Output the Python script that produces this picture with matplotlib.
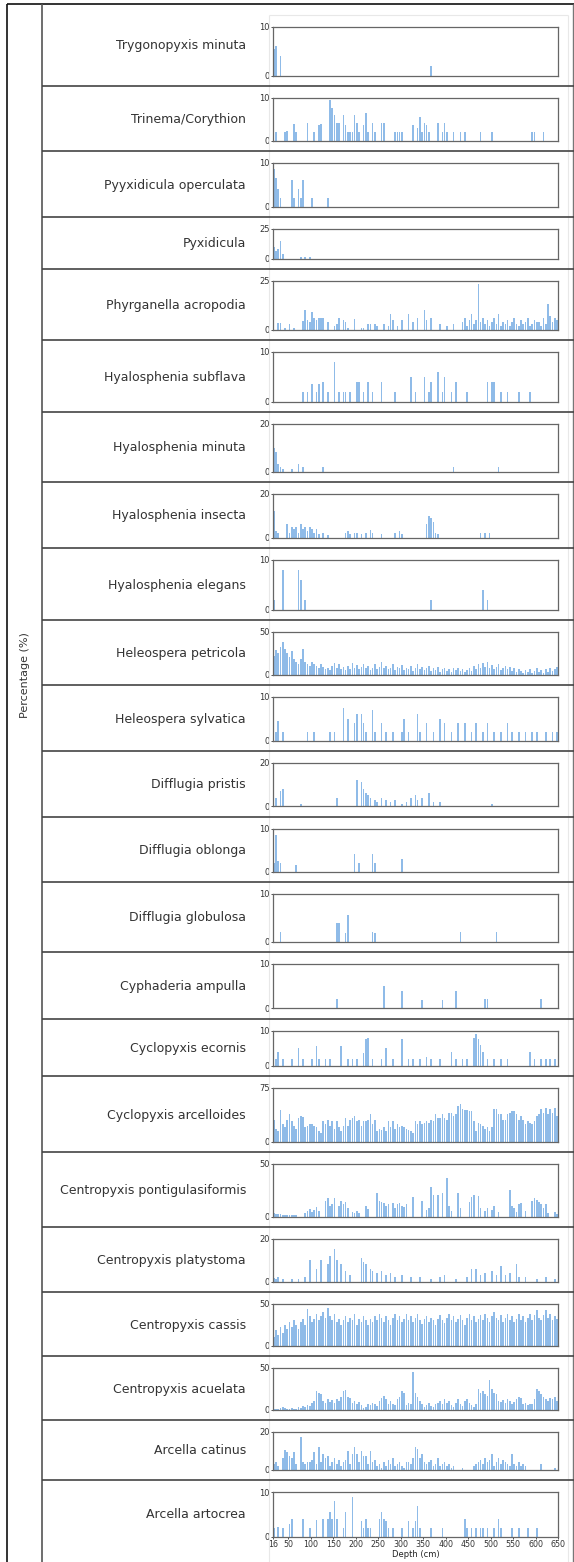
import matplotlib
matplotlib.use("Agg")
import matplotlib.pyplot as plt
from matplotlib.lines import Line2D

# species shown top to bottom, with the y-axis maximum of each panel
species = [
    "Trygonopyxis minuta", "Trinema/Corythion", "Pyyxidicula operculata", "Pyxidicula",
    "Phyrganella acropodia", "Hyalosphenia subflava", "Hyalosphenia minuta",
    "Hyalosphenia insecta", "Hyalosphenia elegans", "Heleospera petricola",
    "Heleospera sylvatica", "Difflugia pristis", "Difflugia oblonga", "Difflugia globulosa",
    "Cyphaderia ampulla", "Cyclopyxis ecornis", "Cyclopyxis arcelloides",
    "Centropyxis pontigulasiformis", "Centropyxis platystoma", "Centropyxis cassis",
    "Centropyxis acuelata", "Arcella catinus", "Arcella artocrea",
]
ymax = [10, 10, 10, 25, 25, 10, 20, 20, 10, 50, 10, 20, 10, 10, 10, 10, 75, 50, 20, 50, 50, 20, 10]

depth_ticks = [16, 50, 100, 150, 200, 250, 300, 350, 400, 450, 500, 550, 600, 650]

# percentage per sample depth (cm); missing depths are zero
trygonopyxis_minuta = {16: 5.5, 21: 6, 31: 4, 366: 2}
trinema_corythion = {21: 2, 41: 2, 46: 2.2, 61: 3.8, 66: 2, 91: 4, 106: 2, 116: 3.5, 121: 3.8,
                     141: 9.5, 146: 7.5, 151: 6, 156: 4, 161: 4, 171: 6, 176: 3.5, 181: 2, 186: 2,
                     191: 2, 196: 6, 201: 4, 206: 2, 216: 3.5, 221: 6.5, 226: 2, 236: 4, 241: 2,
                     256: 4, 261: 4, 286: 2, 291: 2, 296: 2, 301: 2, 326: 3.5, 336: 3, 341: 5.5,
                     346: 2, 351: 4, 356: 3.5, 361: 2, 381: 4, 391: 2, 396: 4, 401: 2, 416: 2,
                     431: 2, 441: 2, 476: 2, 501: 2, 591: 2, 596: 2, 616: 2}
pyyxidicula_operculata = {16: 8.5, 21: 6.5, 26: 4, 31: 2, 56: 6, 61: 2, 71: 4, 76: 2, 81: 6,
                          101: 2, 136: 2}
pyxidicula = {16: 10, 21: 6, 26: 8, 31: 15, 36: 4, 76: 1.5, 86: 1.5, 96: 1}
phyrganella_acropodia = {26: 3.5, 31: 3.5, 41: 1, 51: 3, 61: 1, 81: 4.5, 86: 10, 91: 5, 96: 4,
                         101: 9, 106: 6, 111: 5, 116: 6, 121: 6, 126: 6, 136: 4, 151: 2, 156: 3,
                         161: 6, 171: 5, 176: 4, 181: 1, 196: 5.5, 211: 1, 216: 1, 226: 3, 231: 3,
                         241: 3, 246: 2, 261: 3, 271: 2, 276: 8, 281: 5, 291: 2, 301: 5, 316: 8,
                         326: 4, 336: 6, 351: 10, 356: 5, 366: 6, 386: 3, 401: 2, 416: 3, 436: 4,
                         441: 6, 446: 2, 451: 5, 456: 8, 461: 3, 466: 5, 471: 23, 476: 4, 481: 6,
                         486: 3, 491: 5, 496: 2, 501: 4, 506: 6, 511: 3, 516: 8, 521: 2, 526: 4,
                         531: 3, 536: 5, 541: 2, 546: 4, 551: 6, 556: 3, 561: 2, 566: 5, 571: 3,
                         576: 4, 581: 6, 586: 2, 591: 3, 596: 5, 601: 4, 606: 4, 611: 2, 616: 6,
                         621: 3, 626: 13, 631: 7, 636: 4, 641: 6, 646: 5}
hyalosphenia_subflava = {81: 2, 91: 2, 101: 3.5, 111: 2, 116: 3.5, 126: 4, 136: 2, 151: 8, 161: 2,
                         171: 2, 176: 2, 186: 2, 201: 4, 206: 4, 216: 2, 226: 4, 236: 2, 256: 4,
                         286: 2, 321: 5, 331: 2, 351: 5, 361: 2, 366: 4, 381: 6, 391: 2, 396: 5,
                         411: 2, 421: 4, 446: 2, 491: 4, 501: 4, 506: 4, 521: 2, 536: 2, 561: 2,
                         586: 2}
hyalosphenia_minuta = {16: 10, 21: 8, 26: 3, 31: 2, 36: 1, 56: 1, 71: 3, 81: 2, 126: 2, 416: 2,
                       516: 2}
hyalosphenia_insecta = {16: 12, 21: 3, 26: 2, 46: 6, 51: 2, 56: 5, 61: 4, 66: 5, 71: 2, 76: 6,
                        81: 4, 86: 5, 91: 3, 96: 5, 101: 4, 106: 2, 111: 4, 116: 1.5, 126: 2,
                        136: 1, 176: 2, 181: 3, 186: 1.5, 196: 2, 201: 2, 211: 1.5, 221: 2,
                        231: 3.5, 236: 2, 256: 1.5, 286: 2, 296: 3, 301: 1.5, 356: 6, 361: 10,
                        366: 9, 371: 7, 376: 2, 381: 1.5, 476: 2, 486: 2, 496: 2}
hyalosphenia_elegans = {16: 2, 36: 8, 71: 8, 76: 6, 86: 2, 366: 2, 481: 4, 491: 2}
heleospera_petricola = {16: 22, 21: 28, 26: 25, 31: 32, 36: 38, 41: 30, 46: 25, 51: 20, 56: 27,
                        61: 18, 66: 15, 71: 12, 76: 18, 81: 30, 86: 15, 91: 12, 96: 10, 101: 14,
                        106: 12, 111: 10, 116: 8, 121: 12, 126: 9, 131: 6, 136: 8, 141: 5, 146: 10,
                        151: 13, 156: 8, 161: 12, 166: 6, 171: 9, 176: 5, 181: 10, 186: 6, 191: 13,
                        196: 8, 201: 11, 206: 6, 211: 9, 216: 12, 221: 7, 226: 10, 231: 5, 236: 8,
                        241: 12, 246: 6, 251: 9, 256: 14, 261: 7, 266: 10, 271: 6, 276: 8, 281: 12,
                        286: 5, 291: 9, 296: 7, 301: 11, 306: 5, 311: 8, 316: 6, 321: 10, 326: 4,
                        331: 7, 336: 12, 341: 6, 346: 9, 351: 5, 356: 8, 361: 10, 366: 4, 371: 7,
                        376: 5, 381: 9, 386: 3, 391: 6, 396: 8, 401: 4, 406: 6, 411: 3, 416: 7,
                        421: 5, 426: 8, 431: 4, 436: 6, 441: 3, 446: 5, 451: 8, 456: 4, 461: 10,
                        466: 6, 471: 12, 476: 7, 481: 13, 486: 9, 491: 14, 496: 8, 501: 11, 506: 6,
                        511: 9, 516: 12, 521: 5, 526: 8, 531: 10, 536: 6, 541: 9, 546: 4, 551: 7,
                        556: 3, 561: 6, 566: 4, 571: 2, 576: 5, 581: 3, 586: 6, 591: 2, 596: 4,
                        601: 7, 606: 3, 611: 5, 616: 2, 621: 6, 626: 3, 631: 8, 636: 4, 641: 6,
                        646: 9}
heleospera_sylvatica = {21: 2, 26: 4.5, 36: 2, 91: 2, 106: 2, 141: 2, 151: 2, 171: 7.5, 181: 5,
                        196: 4, 201: 6, 211: 6, 216: 4, 221: 2, 236: 7, 241: 2, 256: 4, 266: 2,
                        281: 2, 301: 2, 306: 5, 316: 2, 336: 6, 341: 2, 356: 4, 371: 2, 386: 5,
                        396: 4, 411: 2, 426: 4, 441: 4, 456: 2, 466: 4, 481: 2, 491: 4, 506: 2,
                        521: 2, 536: 4, 546: 2, 561: 2, 576: 2, 591: 2, 601: 2, 621: 2, 636: 2,
                        646: 2}
difflugia_pristis = {21: 4, 31: 7, 36: 8, 76: 1, 156: 4, 201: 12, 211: 11, 216: 8, 221: 6, 226: 5,
                     231: 4, 241: 3, 246: 2, 256: 4, 266: 3, 276: 2, 286: 3, 301: 1, 311: 2,
                     321: 4, 331: 5, 336: 3, 346: 4, 361: 6, 371: 2, 386: 2, 501: 1}
difflugia_oblonga = {16: 2, 21: 8.5, 26: 2.5, 31: 2, 66: 1.5, 196: 4, 206: 2, 236: 4, 241: 2,
                     301: 3}
difflugia_globulosa = {31: 2, 156: 3.8, 161: 3.8, 176: 1.8, 181: 5.5, 236: 2, 241: 1.8, 431: 2,
                       511: 2}
cyphaderia_ampulla = {156: 2, 261: 5, 301: 3.8, 346: 1.8, 391: 1.8, 421: 3.8, 486: 2, 491: 2,
                      611: 2}
cyclopyxis_ecornis = {21: 2, 26: 4, 36: 2, 56: 2, 71: 5, 81: 2, 101: 2, 111: 5.5, 116: 2, 131: 2,
                      141: 2, 166: 5.5, 181: 2, 191: 2, 201: 2, 216: 3.5, 221: 7.5, 226: 8,
                      236: 2, 256: 2, 266: 5, 281: 2, 301: 7.5, 316: 2, 326: 2, 341: 2, 356: 2.5,
                      366: 2, 386: 2, 411: 4, 421: 2, 436: 2, 446: 2, 461: 8, 466: 9, 471: 7.5,
                      476: 6, 481: 4, 491: 2, 506: 2, 521: 2, 536: 2, 586: 4, 596: 2, 611: 2,
                      621: 2, 631: 2, 641: 2}
cyclopyxis_arcelloides = {16: 30, 21: 18, 26: 15, 31: 44, 36: 25, 41: 20, 46: 30, 51: 38, 56: 28,
                          61: 22, 66: 18, 71: 32, 76: 35, 81: 34, 86: 20, 91: 22, 96: 25, 101: 24,
                          106: 22, 111: 20, 116: 15, 121: 12, 126: 28, 131: 25, 136: 30, 141: 22,
                          146: 28, 151: 18, 156: 28, 161: 20, 166: 15, 171: 22, 176: 32, 181: 22,
                          186: 30, 191: 33, 196: 35, 201: 28, 206: 30, 211: 22, 216: 28, 221: 28,
                          226: 30, 231: 38, 236: 25, 241: 30, 246: 15, 251: 18, 256: 16, 261: 20,
                          266: 15, 271: 28, 276: 20, 281: 28, 286: 18, 291: 25, 296: 20, 301: 22,
                          306: 20, 311: 18, 316: 16, 321: 15, 326: 12, 331: 28, 336: 25, 341: 28,
                          346: 25, 351: 26, 356: 28, 361: 26, 366: 30, 371: 28, 376: 38, 381: 32,
                          386: 32, 391: 38, 396: 33, 401: 30, 406: 40, 411: 40, 416: 35, 421: 38,
                          426: 50, 431: 52, 436: 45, 441: 44, 446: 44, 451: 43, 456: 42, 461: 28,
                          466: 15, 471: 26, 476: 25, 481: 22, 486: 18, 491: 20, 496: 15, 501: 20,
                          506: 45, 511: 45, 516: 38, 521: 38, 526: 30, 531: 30, 536: 38, 541: 40,
                          546: 42, 551: 42, 556: 38, 561: 30, 566: 35, 571: 30, 576: 25, 581: 28,
                          586: 26, 591: 25, 596: 28, 601: 35, 606: 38, 611: 45, 616: 40, 621: 46,
                          626: 38, 631: 45, 636: 40, 641: 46, 646: 35}
centropyxis_pontigulasiformis = {16: 3, 21: 2, 26: 2, 31: 2, 36: 1, 41: 1, 46: 1, 51: 1, 56: 1,
                                 61: 1, 66: 1, 86: 3, 91: 5, 96: 7, 101: 4, 106: 6, 111: 9,
                                 116: 5, 131: 15, 136: 17, 141: 10, 146: 12, 151: 17, 161: 10,
                                 166: 15, 171: 12, 176: 14, 181: 8, 191: 4, 196: 3, 201: 5, 206: 3,
                                 221: 10, 226: 7, 246: 22, 251: 15, 256: 14, 261: 13, 266: 10,
                                 271: 12, 281: 13, 286: 8, 291: 12, 296: 13, 301: 10, 306: 9,
                                 311: 12, 326: 18, 346: 15, 356: 6, 361: 8, 366: 28, 371: 20,
                                 381: 20, 391: 22, 401: 36, 406: 10, 411: 5, 426: 22, 431: 8,
                                 451: 14, 456: 18, 461: 20, 471: 19, 476: 8, 486: 5, 491: 8,
                                 501: 6, 506: 10, 516: 4, 541: 25, 546: 10, 551: 8, 556: 4,
                                 561: 12, 566: 13, 576: 5, 591: 15, 596: 17, 601: 16, 606: 14,
                                 611: 12, 616: 8, 621: 12, 626: 3, 641: 4, 646: 2}
centropyxis_platystoma = {16: 1.5, 21: 1, 26: 2, 36: 1, 56: 1, 71: 1, 86: 2, 96: 10, 111: 6,
                          121: 10, 136: 8, 141: 12, 151: 15, 156: 10, 166: 8, 176: 5, 186: 3,
                          211: 11, 216: 9, 221: 8, 231: 6, 236: 5, 246: 4, 256: 5, 266: 3, 276: 4,
                          286: 2, 301: 3, 321: 2, 341: 2, 366: 1, 386: 2, 396: 3, 421: 1, 446: 2,
                          456: 6, 466: 6, 476: 3, 486: 4, 501: 5, 511: 3, 521: 7, 531: 3, 541: 4,
                          556: 8, 561: 2, 576: 2, 601: 1, 621: 2, 641: 1}
centropyxis_cassis = {16: 10, 21: 18, 26: 12, 31: 22, 36: 15, 41: 25, 46: 20, 51: 28, 56: 22,
                      61: 30, 66: 25, 71: 20, 76: 28, 81: 32, 86: 25, 91: 44, 96: 35, 101: 28,
                      106: 32, 111: 38, 116: 30, 121: 35, 126: 40, 131: 33, 136: 45, 141: 35,
                      146: 30, 151: 38, 156: 28, 161: 32, 166: 25, 171: 30, 176: 35, 181: 28,
                      186: 33, 191: 30, 196: 38, 201: 25, 206: 32, 211: 28, 216: 35, 221: 30,
                      226: 25, 231: 32, 236: 28, 241: 35, 246: 30, 251: 38, 256: 33, 261: 28,
                      266: 35, 271: 30, 276: 25, 281: 33, 286: 38, 291: 30, 296: 35, 301: 28,
                      306: 32, 311: 37, 316: 30, 321: 35, 326: 28, 331: 33, 336: 38, 341: 30,
                      346: 26, 351: 32, 356: 35, 361: 28, 366: 33, 371: 30, 376: 25, 381: 32,
                      386: 36, 391: 30, 396: 27, 401: 33, 406: 38, 411: 30, 416: 35, 421: 28,
                      426: 32, 431: 36, 436: 30, 441: 25, 446: 33, 451: 38, 456: 30, 461: 35,
                      466: 28, 471: 32, 476: 36, 481: 30, 486: 38, 491: 33, 496: 28, 501: 35,
                      506: 40, 511: 33, 516: 30, 521: 36, 526: 28, 531: 33, 536: 38, 541: 30,
                      546: 35, 551: 28, 556: 32, 561: 37, 566: 30, 571: 35, 576: 28, 581: 33,
                      586: 38, 591: 30, 596: 36, 601: 42, 606: 33, 611: 30, 616: 36, 621: 42,
                      626: 33, 631: 38, 636: 30, 641: 35, 646: 32}
centropyxis_acuelata = {16: 1, 21: 1, 26: 1, 31: 2, 36: 3, 41: 2, 46: 1, 51: 1, 56: 2, 61: 1,
                        66: 1, 71: 3, 76: 2, 81: 4, 86: 3, 91: 5, 96: 4, 101: 8, 106: 10, 111: 22,
                        116: 20, 121: 18, 126: 10, 131: 8, 136: 12, 141: 9, 146: 11, 151: 8,
                        156: 12, 161: 10, 166: 15, 171: 22, 176: 23, 181: 15, 186: 14, 191: 8,
                        196: 10, 201: 6, 206: 9, 211: 5, 216: 2, 221: 3, 226: 7, 231: 5, 236: 8,
                        241: 6, 246: 4, 251: 10, 256: 14, 261: 16, 266: 12, 271: 6, 276: 10,
                        281: 7, 286: 5, 291: 12, 296: 15, 301: 22, 306: 20, 311: 5, 316: 8,
                        321: 6, 326: 45, 331: 20, 336: 15, 341: 10, 346: 6, 351: 3, 356: 5,
                        361: 8, 366: 4, 371: 3, 376: 6, 381: 8, 386: 10, 391: 7, 396: 12, 401: 8,
                        406: 10, 411: 5, 416: 3, 421: 8, 426: 12, 431: 6, 436: 4, 441: 10,
                        446: 12, 451: 8, 456: 5, 461: 3, 466: 6, 471: 25, 476: 20, 481: 22,
                        486: 18, 491: 16, 496: 35, 501: 25, 506: 20, 511: 18, 516: 10, 521: 9,
                        526: 11, 531: 8, 536: 12, 541: 10, 546: 7, 551: 9, 556: 12, 561: 15,
                        566: 14, 571: 6, 576: 8, 581: 5, 586: 7, 591: 6, 596: 12, 601: 25,
                        606: 22, 611: 18, 616: 15, 621: 12, 626: 10, 631: 14, 636: 12, 641: 15,
                        646: 10}
arcella_catinus = {16: 3, 21: 4, 26: 2, 36: 6, 41: 10.5, 46: 9, 51: 7, 56: 6, 61: 9, 66: 3,
                   76: 17, 81: 4, 86: 3, 91: 4, 96: 4, 101: 5, 106: 9, 111: 3, 116: 12, 121: 4,
                   126: 8, 131: 6, 136: 7, 141: 2, 146: 4, 151: 6, 156: 3, 161: 5, 166: 2, 171: 4,
                   176: 5, 181: 9.5, 186: 3, 191: 8, 196: 12, 201: 8, 206: 4, 211: 10, 216: 7,
                   221: 7, 226: 3, 231: 9.5, 236: 4, 241: 5, 246: 2, 251: 3, 256: 1, 261: 4,
                   266: 2, 271: 5, 276: 3, 281: 6, 286: 2, 291: 3, 296: 4, 301: 2, 306: 1, 311: 4,
                   316: 4, 321: 3, 326: 6, 331: 12, 336: 11, 341: 6, 346: 8, 351: 4, 356: 3,
                   361: 4, 366: 5, 371: 2, 376: 3, 381: 6, 386: 2, 391: 3, 396: 4, 401: 2, 406: 3,
                   411: 1, 416: 2, 436: 1, 461: 2, 466: 3, 471: 4, 476: 5, 481: 3, 486: 6, 491: 4,
                   496: 5, 501: 8, 506: 2, 511: 4, 516: 6, 521: 3, 526: 5, 531: 4, 536: 3, 541: 2,
                   546: 8, 551: 3, 556: 2, 561: 4, 566: 2, 571: 3, 576: 2, 611: 3, 641: 1}
arcella_artocrea = {16: 2, 26: 2.2, 36: 2, 51: 3, 56: 4, 81: 4, 96: 2, 111: 3.8, 126: 4, 136: 4,
                    141: 5.5, 146: 4, 151: 8, 156: 4, 171: 2, 176: 5.5, 191: 9, 211: 3.5, 216: 2,
                    221: 4, 226: 2, 231: 2, 251: 4, 256: 5.5, 261: 4, 266: 3.5, 271: 2, 281: 2,
                    301: 2, 316: 3.5, 326: 2, 331: 3.5, 336: 7, 341: 2, 366: 2, 391: 2, 441: 4,
                    446: 2, 456: 2, 466: 2, 476: 2, 481: 2, 491: 2, 506: 2, 516: 4, 521: 2,
                    546: 2, 561: 2, 581: 2, 601: 2}

series = [trygonopyxis_minuta, trinema_corythion, pyyxidicula_operculata, pyxidicula,
          phyrganella_acropodia, hyalosphenia_subflava, hyalosphenia_minuta, hyalosphenia_insecta,
          hyalosphenia_elegans, heleospera_petricola, heleospera_sylvatica, difflugia_pristis,
          difflugia_oblonga, difflugia_globulosa, cyphaderia_ampulla, cyclopyxis_ecornis,
          cyclopyxis_arcelloides, centropyxis_pontigulasiformis, centropyxis_platystoma,
          centropyxis_cassis, centropyxis_acuelata, arcella_catinus, arcella_artocrea]

# ---------------- layout (pixels of the 574x1562 canvas) ----------------
W, H = 574, 1562
row_edges = [4, 86, 151, 217, 269, 340, 412, 482, 548, 620, 685, 751, 817, 882, 952, 1019,
             1076, 1152, 1227, 1292, 1356, 1420, 1480, 1562]
AX_LEFT, AX_RIGHT = 273, 558
BAR_COLOR = "#8fbbe8"


def fx(x):
    return x / W


def fy(y):
    return 1 - y / H


fig = plt.figure(figsize=(W / 100, H / 100), dpi=100)


def line(x0, y0, x1, y1, color, lw):
    fig.add_artist(Line2D([fx(x0), fx(x1)], [fy(y0), fy(y1)], color=color, lw=lw,
                          solid_capstyle="butt"))


# faint frame of the plot area
line(269, 15, 568, 15, "#e8e8e8", 0.8)
line(269, 15, 269, H, "#e8e8e8", 0.8)
line(568, 15, 568, H, "#e8e8e8", 0.8)

# outer table lines
line(7, 4, W, 4, "#111111", 1.2)
line(7, 4, 7, H, "#111111", 1.2)
line(573, 4, 573, H, "#777777", 1.0)
line(42, 4, 42, H, "#555555", 1.2)
for y in row_edges[1:-1]:
    line(42, y, W, y, "#444444", 1.2)

fig.text(fx(25), fy(675), "Percentage (%)", rotation=90, fontsize=8, color="#333333",
         ha="center", va="center")

n = len(species)
for i, (name, data, top_val) in enumerate(zip(species, series, ymax)):
    r0, r1 = row_edges[i], row_edges[i + 1]
    if i == 0:
        top, bottom = 26.5, r1 - 10.5
    elif i == n - 1:
        top, bottom = 1492, 1537
    else:
        top, bottom = r0 + 11.5, r1 - 10.5
    ax = fig.add_axes([fx(AX_LEFT), fy(bottom), fx(AX_RIGHT) - fx(AX_LEFT), (bottom - top) / H])
    ax.bar(list(data.keys()), list(data.values()), width=3.5, align="edge",
           color=BAR_COLOR, linewidth=0)
    ax.set_xlim(16, 650)
    ax.set_ylim(0, top_val)
    ax.set_yticks([0, top_val])
    ax.tick_params(axis="y", labelsize=6, length=1.5, width=0.6, pad=0.8,
                   colors="#333333")
    for s in ax.spines.values():
        s.set_color("#666666")
        s.set_linewidth(0.9)
    if i == n - 1:
        ax.set_xticks(depth_ticks)
        ax.tick_params(axis="x", labelsize=5.7, length=1.5, width=0.6, pad=1,
                       colors="#333333")
        ax.set_xlabel("Depth (cm)", fontsize=6, labelpad=0.5, color="#222222")
        label_y = 1515
    else:
        ax.set_xticks([])
        label_y = (r0 + r1) / 2 + 1
    fig.text(fx(246), fy(label_y), name, fontsize=9, color="#333333", ha="right", va="center")

fig.savefig("out.png", dpi=100)
